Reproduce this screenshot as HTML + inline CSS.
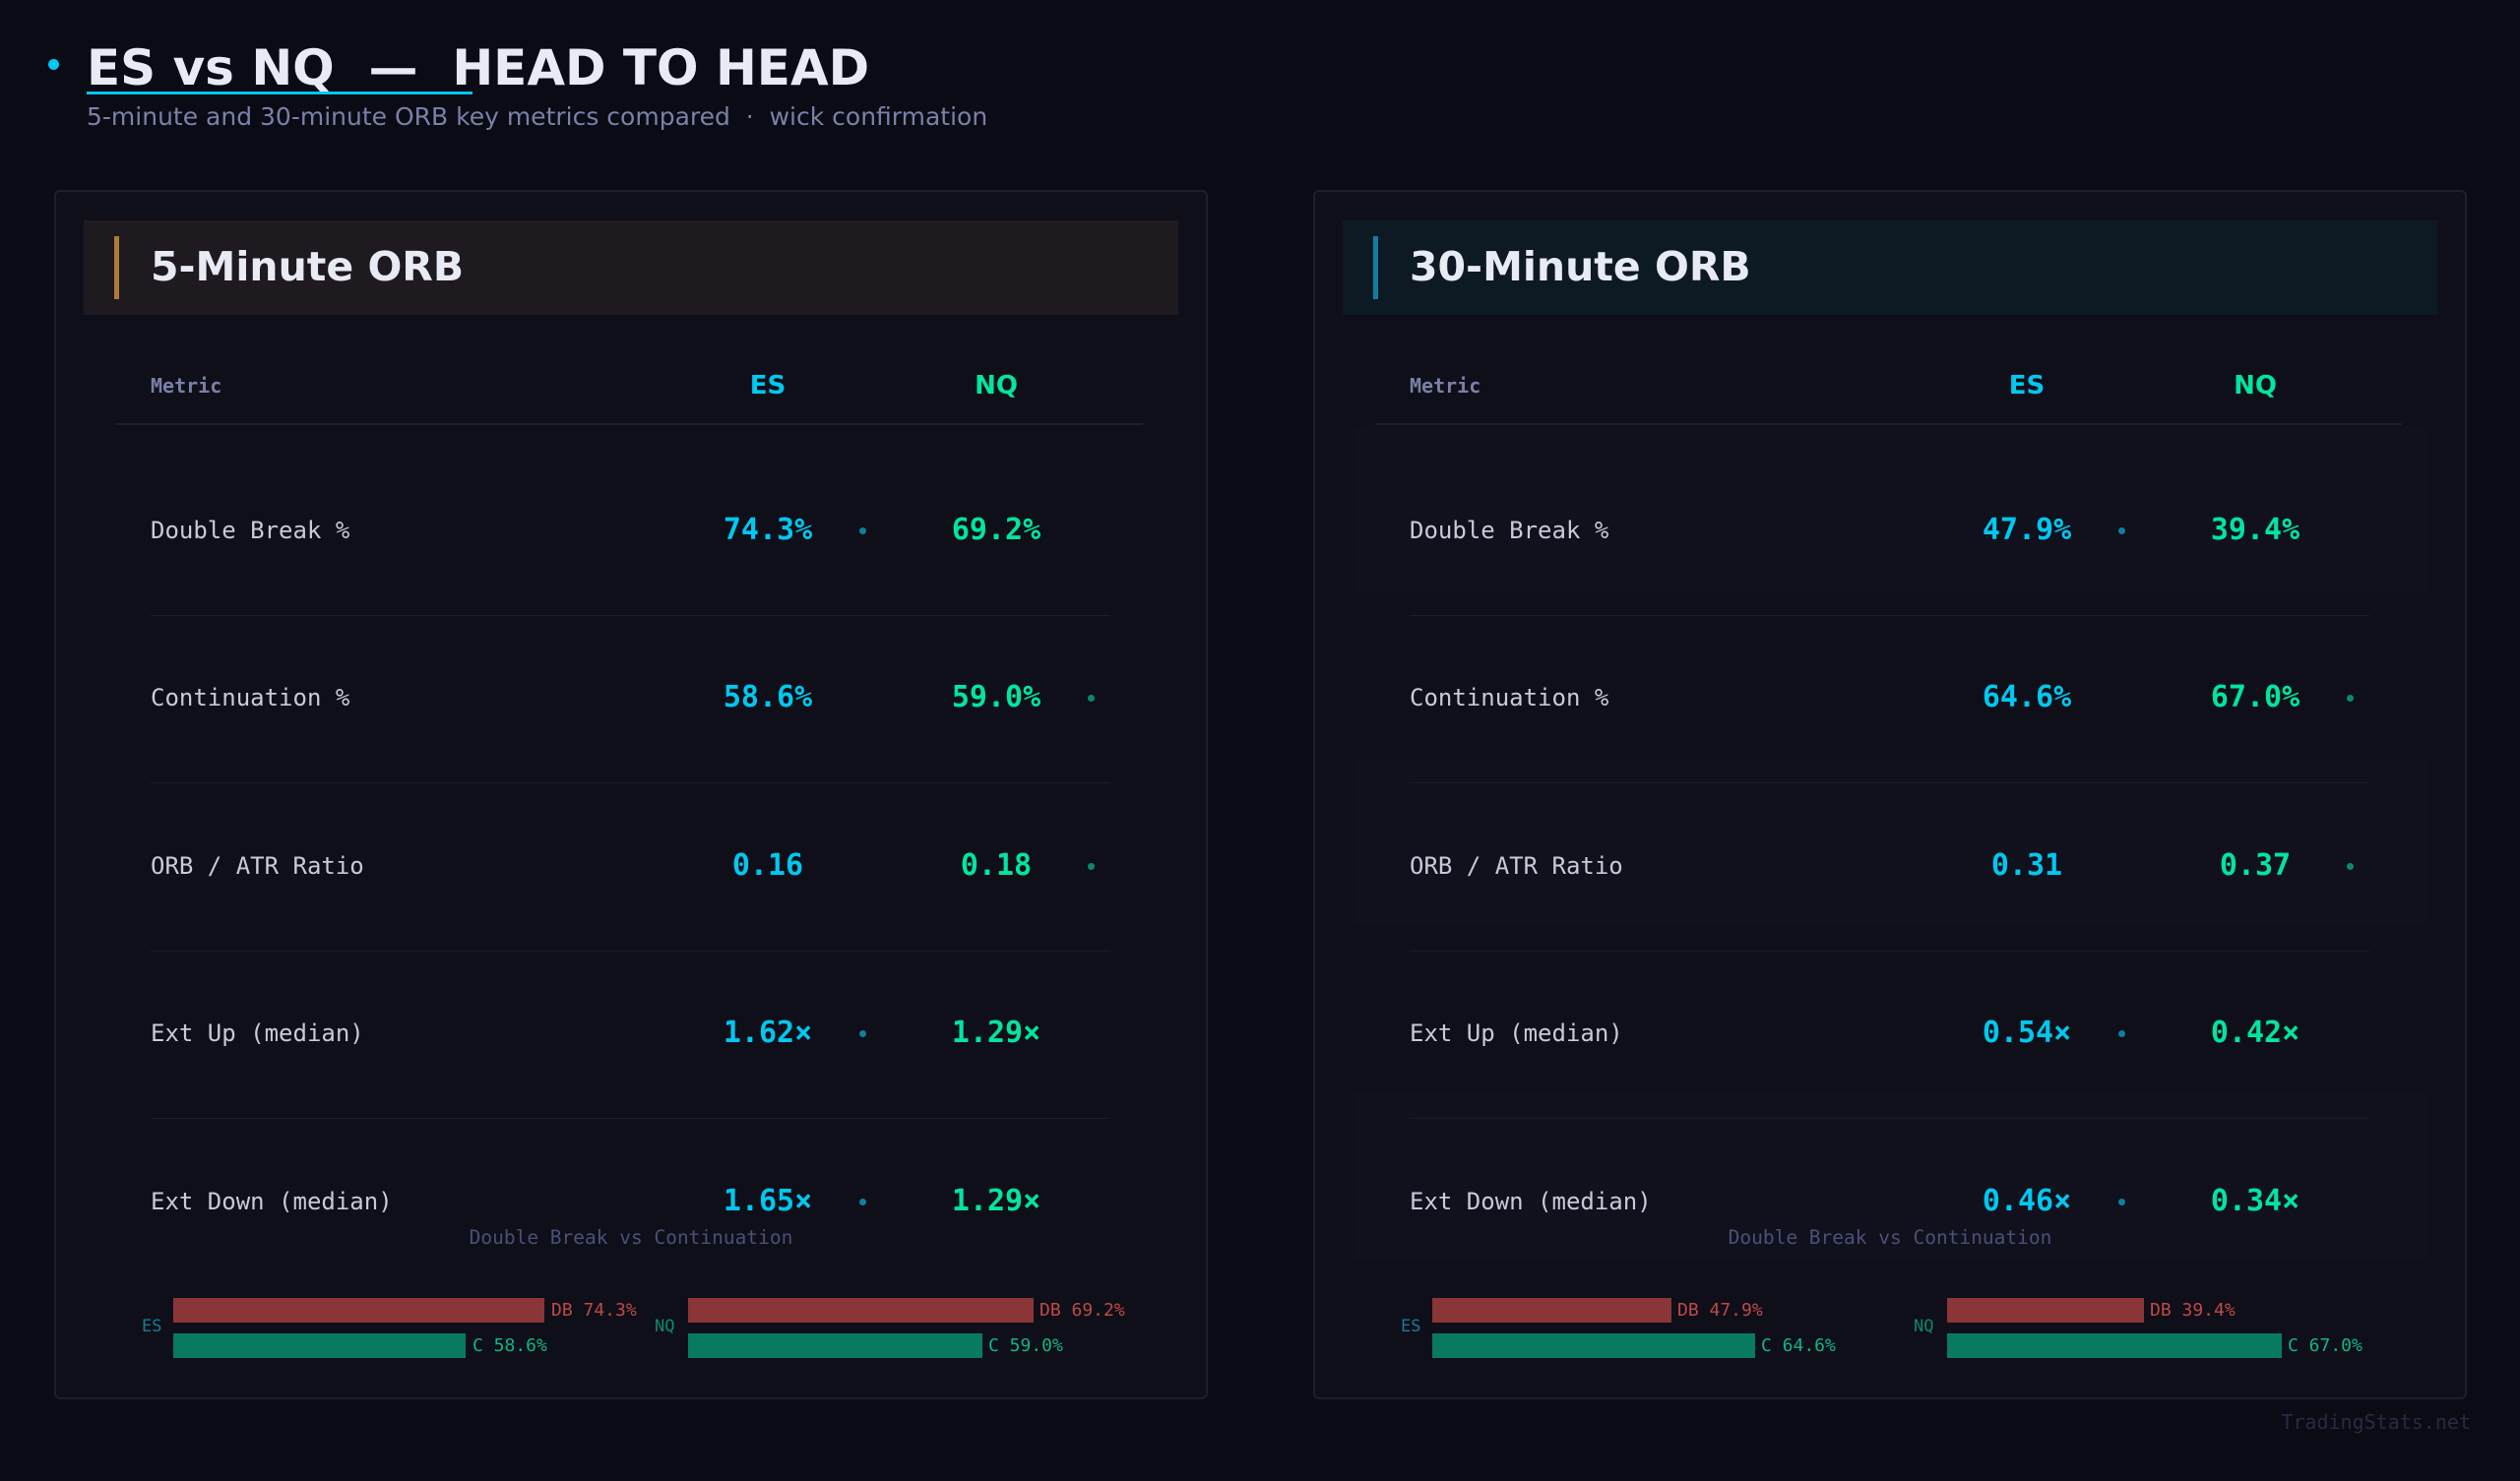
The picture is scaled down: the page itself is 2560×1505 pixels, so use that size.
<!DOCTYPE html>
<html><head><meta charset="utf-8"><style>
*{margin:0;padding:0;box-sizing:border-box}
body{width:2560px;height:1505px;background:#0a0b14;position:relative;overflow:hidden;font-family:"DejaVu Sans","Liberation Sans",sans-serif}
.a{position:absolute;white-space:nowrap}
.m{font-family:"DejaVu Sans Mono","Liberation Mono",monospace}
.panel{position:absolute;top:193px;width:1172px;height:1229px;background:#0e0f18;border:2px solid #1c1f2e;border-radius:6px}
.lbl{color:#c8cad8;font-size:24px;line-height:30px}
.v{font-size:30px;font-weight:bold;line-height:34px;width:200px;text-align:center}
.es{color:#00c8f0}.nq{color:#00e5a0}
.sep{position:absolute;height:1px;background:#1a1c28}
.dot{position:absolute;width:7px;height:7px;border-radius:50%}
.bl{position:absolute;height:25px}
.db{background:#8a3538}.c{background:#087a5e}
.bt{font-size:18px;line-height:25px}
.h{font-family:"DejaVu Sans",sans-serif;font-size:26px}
</style></head><body>
<div class="a" style="left:49px;top:60px;width:11px;height:11px;border-radius:50%;background:#00c8f0"></div>
<div class="a" style="left:88px;top:39px;font-size:50px;font-weight:bold;color:#e8eaf4;line-height:60px">ES vs NQ &nbsp;— &nbsp;HEAD TO HEAD</div>
<div class="a" style="left:88px;top:93px;width:392px;height:3px;background:#00c8f0"></div>
<div class="a" style="left:88px;top:104px;font-size:25px;color:#7a80a8;line-height:30px">5-minute and 30-minute ORB key metrics compared &nbsp;· &nbsp;wick confirmation</div>

<!-- LEFT PANEL -->
<div class="panel" style="left:55px"></div>
<div class="a" style="left:85px;top:224px;width:1112px;height:96px;background:#1e1a1f"></div>
<div class="a" style="left:116px;top:240px;width:5px;height:64px;background:#b07a3a"></div>
<div class="a" style="left:153px;top:247px;font-size:41px;font-weight:bold;color:#e8eaf4;line-height:48px">5-Minute ORB</div>
<div class="a m" style="left:153px;top:380px;font-size:20px;font-weight:bold;color:#7a80a8;line-height:24px">Metric</div>
<div class="a v es h" style="left:680px;top:375px">ES</div>
<div class="a v nq h" style="left:912px;top:375px">NQ</div>
<div class="sep" style="left:118px;top:430px;width:1043px;height:2px;background:#1c1f2e"></div>

<div class="a m lbl" style="left:153px;top:524px">Double Break %</div>
<div class="a m v es" style="left:680px;top:522px">74.3%</div><div class="a m v nq" style="left:912px;top:522px">69.2%</div>
<div class="dot" style="left:873px;top:536px;background:#0e7f9f"></div>
<div class="sep" style="left:153px;top:625px;width:975px"></div>
<div class="a m lbl" style="left:153px;top:694px">Continuation %</div>
<div class="a m v es" style="left:680px;top:692px">58.6%</div><div class="a m v nq" style="left:912px;top:692px">59.0%</div>
<div class="dot" style="left:1105px;top:706px;background:#0a8a6a"></div>
<div class="sep" style="left:153px;top:795px;width:975px"></div>
<div class="a m lbl" style="left:153px;top:865px">ORB / ATR Ratio</div>
<div class="a m v es" style="left:680px;top:863px">0.16</div><div class="a m v nq" style="left:912px;top:863px">0.18</div>
<div class="dot" style="left:1105px;top:877px;background:#0a8a6a"></div>
<div class="sep" style="left:153px;top:966px;width:975px"></div>
<div class="a m lbl" style="left:153px;top:1035px">Ext Up (median)</div>
<div class="a m v es" style="left:680px;top:1033px">1.62×</div><div class="a m v nq" style="left:912px;top:1033px">1.29×</div>
<div class="dot" style="left:873px;top:1047px;background:#0e7f9f"></div>
<div class="sep" style="left:153px;top:1136px;width:975px"></div>
<div class="a m lbl" style="left:153px;top:1206px">Ext Down (median)</div>
<div class="a m v es" style="left:680px;top:1204px">1.65×</div><div class="a m v nq" style="left:912px;top:1204px">1.29×</div>
<div class="dot" style="left:873px;top:1218px;background:#0e7f9f"></div>

<div class="a m" style="left:55px;width:1172px;text-align:center;top:1246px;font-size:19.5px;color:#4a5078;line-height:24px">Double Break vs Continuation</div>
<div class="a m" style="left:144px;top:1338px;font-size:17px;color:#1a7a9a">ES</div>
<div class="bl db" style="left:176px;top:1319px;width:377px"></div><div class="a m bt" style="left:560px;top:1319px;color:#c04848">DB 74.3%</div>
<div class="bl c" style="left:176px;top:1355px;width:297px"></div><div class="a m bt" style="left:480px;top:1355px;color:#0fb585">C 58.6%</div>
<div class="a m" style="left:665px;top:1338px;font-size:17px;color:#0a8a6a">NQ</div>
<div class="bl db" style="left:699px;top:1319px;width:351px"></div><div class="a m bt" style="left:1056px;top:1319px;color:#c04848">DB 69.2%</div>
<div class="bl c" style="left:699px;top:1355px;width:299px"></div><div class="a m bt" style="left:1004px;top:1355px;color:#0fb585">C 59.0%</div>

<!-- RIGHT PANEL -->
<div class="panel" style="left:1334px"></div>
<div class="a" style="left:1364px;top:224px;width:1112px;height:96px;background:#0d1923"></div>
<div class="a" style="left:1395px;top:240px;width:5px;height:64px;background:#0e7fa0"></div>
<div class="a" style="left:1432px;top:247px;font-size:41px;font-weight:bold;color:#e8eaf4;line-height:48px">30-Minute ORB</div>
<div class="a" style="left:1375px;top:433px;width:1089px;height:168px;background:#10111c"></div>
<div class="a" style="left:1375px;top:771px;width:1089px;height:169px;background:#10111c"></div>
<div class="a" style="left:1375px;top:1110px;width:1089px;height:170px;background:#10111c"></div>
<div class="a m" style="left:1432px;top:380px;font-size:20px;font-weight:bold;color:#7a80a8;line-height:24px">Metric</div>
<div class="a v es h" style="left:1959px;top:375px">ES</div>
<div class="a v nq h" style="left:2191px;top:375px">NQ</div>
<div class="sep" style="left:1397px;top:430px;width:1043px;height:2px;background:#1c1f2e"></div>

<div class="a m lbl" style="left:1432px;top:524px">Double Break %</div>
<div class="a m v es" style="left:1959px;top:522px">47.9%</div><div class="a m v nq" style="left:2191px;top:522px">39.4%</div>
<div class="dot" style="left:2152px;top:536px;background:#0e7f9f"></div>
<div class="sep" style="left:1432px;top:625px;width:975px"></div>
<div class="a m lbl" style="left:1432px;top:694px">Continuation %</div>
<div class="a m v es" style="left:1959px;top:692px">64.6%</div><div class="a m v nq" style="left:2191px;top:692px">67.0%</div>
<div class="dot" style="left:2384px;top:706px;background:#0a8a6a"></div>
<div class="sep" style="left:1432px;top:795px;width:975px"></div>
<div class="a m lbl" style="left:1432px;top:865px">ORB / ATR Ratio</div>
<div class="a m v es" style="left:1959px;top:863px">0.31</div><div class="a m v nq" style="left:2191px;top:863px">0.37</div>
<div class="dot" style="left:2384px;top:877px;background:#0a8a6a"></div>
<div class="sep" style="left:1432px;top:966px;width:975px"></div>
<div class="a m lbl" style="left:1432px;top:1035px">Ext Up (median)</div>
<div class="a m v es" style="left:1959px;top:1033px">0.54×</div><div class="a m v nq" style="left:2191px;top:1033px">0.42×</div>
<div class="dot" style="left:2152px;top:1047px;background:#0e7f9f"></div>
<div class="sep" style="left:1432px;top:1136px;width:975px"></div>
<div class="a m lbl" style="left:1432px;top:1206px">Ext Down (median)</div>
<div class="a m v es" style="left:1959px;top:1204px">0.46×</div><div class="a m v nq" style="left:2191px;top:1204px">0.34×</div>
<div class="dot" style="left:2152px;top:1218px;background:#0e7f9f"></div>

<div class="a m" style="left:1334px;width:1172px;text-align:center;top:1246px;font-size:19.5px;color:#4a5078;line-height:24px">Double Break vs Continuation</div>
<div class="a m" style="left:1423px;top:1338px;font-size:17px;color:#1a7a9a">ES</div>
<div class="bl db" style="left:1455px;top:1319px;width:243px"></div><div class="a m bt" style="left:1704px;top:1319px;color:#c04848">DB 47.9%</div>
<div class="bl c" style="left:1455px;top:1355px;width:328px"></div><div class="a m bt" style="left:1789px;top:1355px;color:#0fb585">C 64.6%</div>
<div class="a m" style="left:1944px;top:1338px;font-size:17px;color:#0a8a6a">NQ</div>
<div class="bl db" style="left:1978px;top:1319px;width:200px"></div><div class="a m bt" style="left:2184px;top:1319px;color:#c04848">DB 39.4%</div>
<div class="bl c" style="left:1978px;top:1355px;width:340px"></div><div class="a m bt" style="left:2324px;top:1355px;color:#0fb585">C 67.0%</div>

<div class="a m" style="right:50px;top:1432px;font-size:20px;color:#262b40;line-height:26px">TradingStats.net</div>
</body></html>
